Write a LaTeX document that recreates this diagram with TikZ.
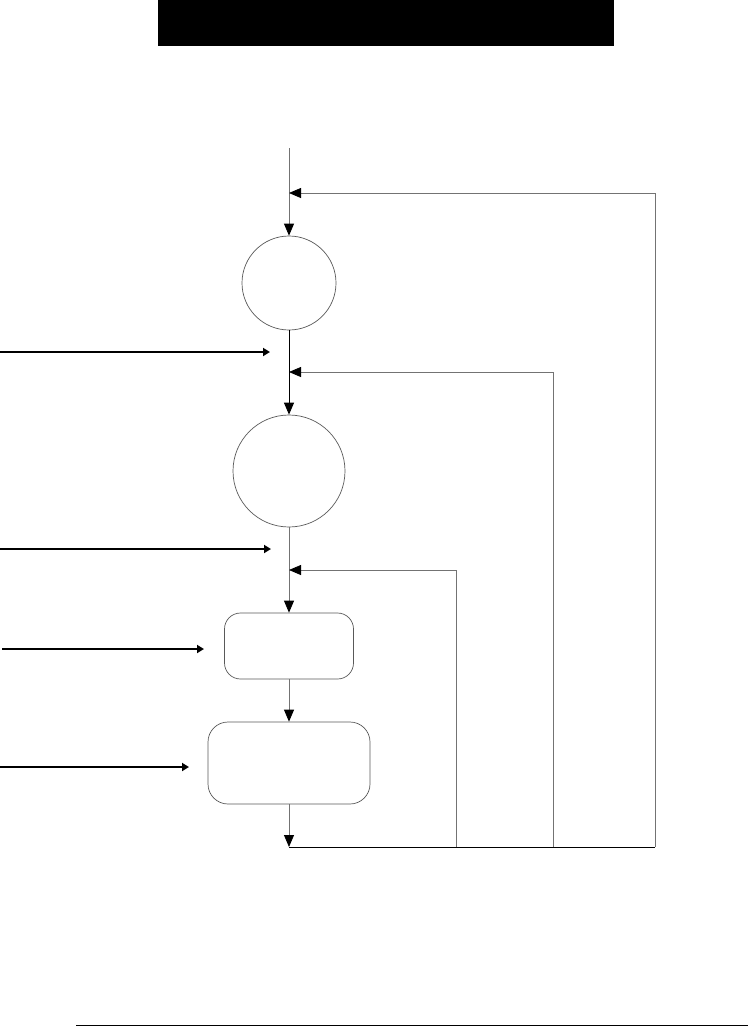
\documentclass[tikz,border=0pt]{standalone}
\usetikzlibrary{arrows.meta}
\begin{document}
\begin{tikzpicture}[x=1pt,y=-1pt,
  circ/.style={circle,draw=black!65,line width=0.7pt,inner sep=0pt},
  rbox/.style={rectangle,draw=black!65,line width=0.7pt,inner sep=0pt},
  flow/.style={draw=black!55,line width=0.8pt},
  flowk/.style={draw=black,line width=0.9pt},
  tip/.style={-{Triangle[length=12pt,width=10pt,color=black]}},
  inarrow/.style={draw=black,line width=2.8pt,-{Triangle[length=7pt,width=8pt]}}]
\useasboundingbox (0,0) rectangle (748,1028);
% title bar
\fill[black] (158,0) rectangle (614,46);
% bottom rule
\draw[black,line width=1pt] (76,1025) -- (748,1025);
% nodes
\coordinate (top) at (289,148);
\node[circ,minimum size=94pt] (c1) at (289,283) {};
\node[circ,minimum size=112pt] (c2) at (289,471) {};
\node[rbox,minimum width=129pt,minimum height=66pt,rounded corners=16pt] (r1) at (289,646) {};
\node[rbox,minimum width=162pt,minimum height=82pt,rounded corners=20pt] (r2) at (289,763) {};
\coordinate (bot) at (289,847);
\coordinate (j1) at (289,193);
\coordinate (j2) at (289,372);
\coordinate (j3) at (289,570);
\coordinate (f1b) at (655,847);
\coordinate (f1t) at (655,193);
\coordinate (f2b) at (553,847);
\coordinate (f2t) at (553,372);
\coordinate (f3b) at (456,847);
\coordinate (f3t) at (456,570);
% main flow
\draw[flow,tip] (top) -- (c1);
\draw[flowk,tip] (c1) -- (c2);
\draw[flow,tip] (c2) -- (r1);
\draw[flow,tip] (r1) -- (r2);
\draw[flow,tip] (r2) -- (bot);
% feedback loops
\draw[flowk,line width=0.8pt] (bot) -- (f1b);
\draw[flow,tip] (f1b) -- (f1t) -- (j1);
\draw[flow,tip] (f2b) -- (f2t) -- (j2);
\draw[flow,tip] (f3b) -- (f3t) -- (j3);
% input arrows
\coordinate (a1s) at (0,352); \coordinate (a1e) at (270,352);
\coordinate (a2s) at (0,549); \coordinate (a2e) at (271,549);
\coordinate (a3s) at (2,649); \coordinate (a3e) at (204,649);
\coordinate (a4s) at (0,767); \coordinate (a4e) at (189,767);
\draw[inarrow] (a1s) -- (a1e);
\draw[inarrow] (a2s) -- (a2e);
\draw[inarrow] (a3s) -- (a3e);
\draw[inarrow] (a4s) -- (a4e);
\end{tikzpicture}
\end{document}
